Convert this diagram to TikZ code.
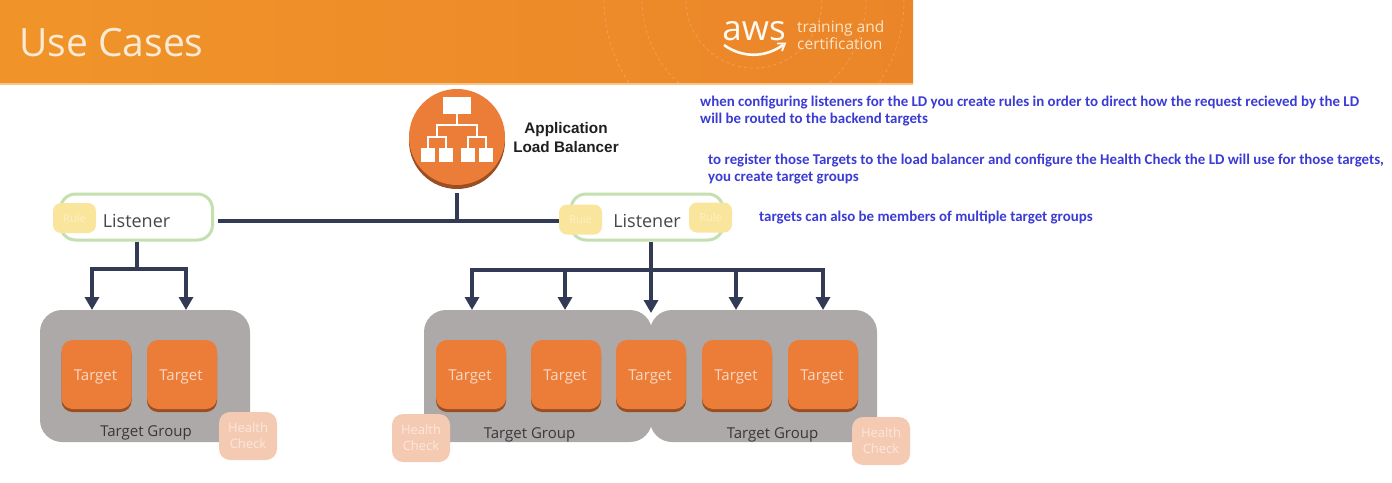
\documentclass[tikz,border=0pt]{standalone}
\usepackage{fontspec}
\setmainfont{Open Sans}
\newfontfamily\notefont{Carlito}
\newfontfamily\albfont{Liberation Sans}
\usetikzlibrary{arrows.meta,shadows}
\definecolor{busc}{HTML}{333A56}
\definecolor{tgtc}{HTML}{EC7D38}
\definecolor{tgtd}{HTML}{9A4E22}
\definecolor{grpc}{HTML}{ADA9A9}
\definecolor{rulec}{HTML}{FAE59C}
\definecolor{hcc}{HTML}{F5CAB3}
\definecolor{lisc}{HTML}{C5E0B0}
\definecolor{notec}{HTML}{3B3BD6}
\definecolor{banl}{HTML}{F09429}
\definecolor{banr}{HTML}{EB8529}
\newcommand\tgtlabel{\hspace*{-2pt}\raisebox{-5.5pt}[0pt][0pt]{Target}}
\newcommand\lislabel{\raisebox{-10pt}[0pt][0pt]{Listener}}
\tikzset{
  x=1pt,y=-1pt,
  bus/.style={draw=busc,line width=4pt,line join=miter},
  busarrow/.style={bus,-{Triangle[width=14pt,length=13pt]}},
  listener/.style={draw=lisc,line width=3pt,fill=white,rounded corners=15pt,minimum width=152pt,minimum height=46pt,inner sep=0pt,font=\fontsize{18}{20}\selectfont,text=black!72},
  rulebox/.style={fill=rulec,rounded corners=8pt,minimum width=43pt,minimum height=30pt,inner sep=0pt,font=\fontsize{11}{12}\selectfont,text=rulec!55!white},
  target/.style={fill=tgtc,rounded corners=11pt,minimum width=70pt,minimum height=69pt,inner sep=0pt,font=\fontsize{15}{17}\selectfont,text=tgtc!30!white,general shadow={fill=tgtd,shadow yshift=-3pt,shadow xshift=0pt}},
  group/.style={fill=grpc,rounded corners=22pt,minimum height=132pt,inner sep=0pt},
  grouplabel/.style={font=\fontsize{15}{17}\selectfont,text=black!78,inner sep=0pt},
  health/.style={fill=hcc,rounded corners=11pt,minimum width=58pt,minimum height=48pt,inner sep=0pt,align=center,font=\fontsize{13}{16}\selectfont,text=hcc!45!white},
  note/.style={anchor=west,inner sep=0pt,align=left,text=notec,font=\notefont\bfseries\fontsize{14.9}{17.2}\selectfont},
  albbox/.style={fill=white,minimum width=14pt,minimum height=14pt,inner sep=0pt},
  albline/.style={draw=white,line width=2pt},
  arcline/.style={draw=white,opacity=.2,line width=.8pt,dash pattern=on 3pt off 3pt},
}
\begin{document}
\begin{tikzpicture}
\useasboundingbox (0,0) rectangle (1392,482);
\fill[white] (0,0) rectangle (1392,482);
% banner
\path[left color=banl,right color=banr] (0,0) rectangle (913,83);
\fill[banl!55!white] (0,83) rectangle (913,84.5);
\begin{scope}
\clip (0,0) rectangle (913,83);
\draw[arcline] (754,0) circle[radius=68];
\draw[arcline] (754,0) circle[radius=112];
\draw[arcline] (754,0) circle[radius=150];
\end{scope}
\node[anchor=west,inner sep=0pt,text=white!80!banl,font=\fontsize{39}{42}\selectfont] (title) at (19,43) {Use Cases};
\node[inner sep=0pt,text=white!95!banl,font=\fontsize{35}{36}\selectfont] (awsword) at (754,31) {aws};
\coordinate (smileL) at (724,45);
\coordinate (smileR) at (783,45);
\draw[draw=white!95!banl,line width=2.6pt] (smileL) .. controls (742,58) and (765,58) .. (smileR);
\draw[draw=white!95!banl,line width=1.8pt] (777,43.5) -- (785,43.5) -- (782,51);
\node[anchor=west,inner sep=0pt,align=left,text=white!75!banl,font=\fontsize{15.5}{16.5}\selectfont] (awstext) at (797,35) {training and\\certification};
% groups
\node[group,minimum width=210pt] (G1) at (145,376) {};
\node[group,minimum width=228pt] (G2) at (538,376) {};
\node[group,minimum width=227pt] (G3) at (763.5,376) {};
% targets
\node[target] (T1) at (96.5,374.5) {\tgtlabel};
\node[target] (T2) at (182,374.5) {\tgtlabel};
\node[target] (T3) at (471,374.5) {\tgtlabel};
\node[target] (T4) at (566,374.5) {\tgtlabel};
\node[target] (T5) at (651,374.5) {\tgtlabel};
\node[target] (T6) at (737,374.5) {\tgtlabel};
\node[target] (T7) at (823,374.5) {\tgtlabel};
\node[grouplabel] (GL1) at (146,433) {Target Group};
\node[grouplabel] (GL2) at (529.5,435) {Target Group};
\node[grouplabel] (GL3) at (772.5,435) {Target Group};
\node[health] (H1) at (248,436) {Health\\Check};
\node[health] (H2) at (421,438) {Health\\Check};
\node[health] (H3) at (881,441) {Health\\Check};
% load balancer
\fill[tgtd] (457,141) circle[radius=48];
\node[circle,fill=tgtc,minimum size=96pt,inner sep=0pt] (alb) at (457,137) {};
\node[albbox,minimum width=28pt,minimum height=17pt] (a0) at (457,105.5) {};
\node[albbox] (a1) at (428,155) {};
\node[albbox] (a2) at (446,155) {};
\node[albbox] (a3) at (468,155) {};
\node[albbox] (a4) at (486,155) {};
\coordinate (am) at (457,125);
\coordinate (aL) at (437,137);
\coordinate (aR) at (477,137);
\draw[albline] (a0.south) -- (am);
\draw[albline] (aL) |- (am) -| (aR);
\draw[albline] (a1.north) |- (aL) -| (a2.north);
\draw[albline] (a3.north) |- (aR) -| (a4.north);
\node[inner sep=0pt,align=center,font=\albfont\bfseries\fontsize{15.3}{19}\selectfont,text=black!88] (albl) at (566,138) {Application\\Load Balancer};
% listeners
\node[listener] (L1) at (136.5,217) {\lislabel};
\node[listener] (L2) at (647,217) {\lislabel};
\coordinate (j0) at (457,220.5);
\coordinate (j1) at (136.5,269);
\coordinate (j2) at (651,270);
\coordinate (r2w) at (562,220.5);
\coordinate (p1) at (92,310);
\coordinate (p2) at (186,310);
\coordinate (p3) at (472,310);
\coordinate (p4) at (565,310);
\coordinate (p5) at (651,313);
\coordinate (p6) at (736,310);
\coordinate (p7) at (823,310);
\draw[bus,shorten <=8pt] (alb.south) -- (j0);
\draw[bus,shorten <=4pt] (L1.east |- j0) -- (r2w);
\node[rulebox] (R1) at (74.5,218) {Rule};
\node[rulebox] (R2) at (580.5,219.5) {Rule};
\node[rulebox] (R3) at (710.5,217.5) {Rule};
\draw[bus] (L1.south) -- (j1);
\draw[busarrow] (j1) -| (p1);
\draw[busarrow] (j1) -| (p2);
\draw[busarrow] (j2 |- L2.south) -- (p5);
\draw[busarrow] (j2) -| (p3);
\draw[busarrow] (j2) -| (p4);
\draw[busarrow] (j2) -| (p6);
\draw[busarrow] (j2) -| (p7);
% notes
\node[note] (n1) at (700,111) {when configuring listeners for the LD you create rules in order to direct how the request recieved by the LD\\will be routed to the backend targets};
\node[note] (n2) at (708,169) {to register those Targets to the load balancer and configure the Health Check the LD will use for those targets,\\you create target groups};
\node[note] (n3) at (759,218) {targets can also be members of multiple target groups};
\end{tikzpicture}
\end{document}
